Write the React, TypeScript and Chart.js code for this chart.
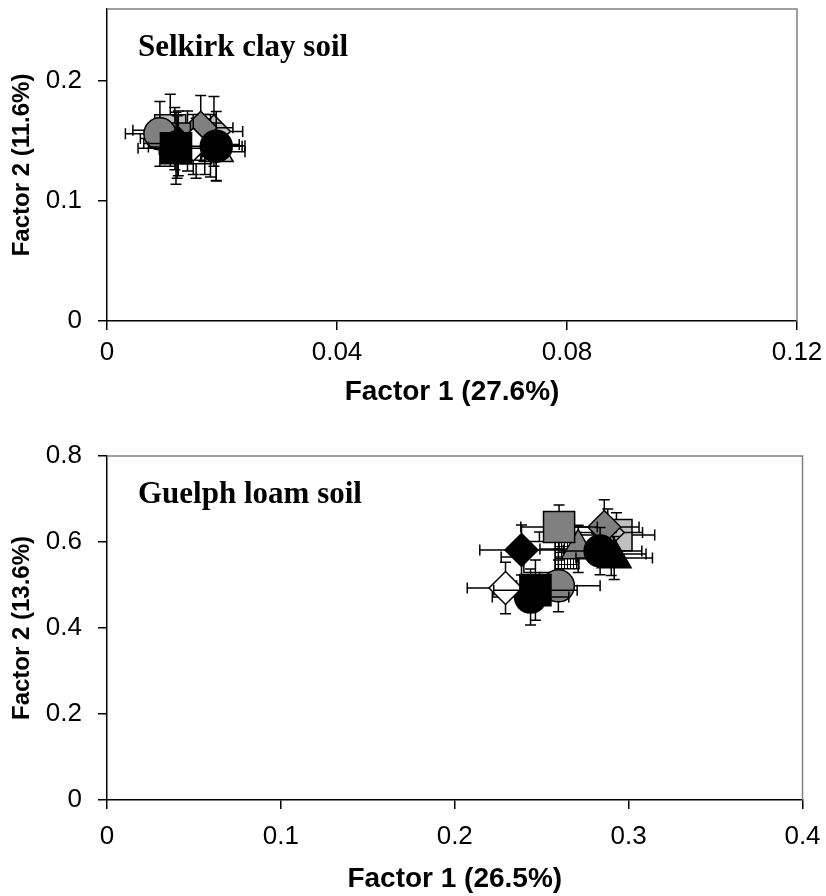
import React, { useEffect, useRef } from 'react';
import { Chart, registerables } from 'chart.js';

Chart.register(...registerables);

// ---------- DATA ----------
// Series, listed in drawing order (first = drawn underneath)
const seriesNames = [
  'T1', 'T2', 'T3', 'T4', 'T5', 'T6', 'T7', 'T8',
  'T9', 'T10', 'T11', 'T12', 'T13', 'T14', 'T15',
];
const markerShapes = [
  'rect', 'rect', 'rectRot', 'rect', 'triangle', 'triangle', 'triangle', 'rectRot',
  'rect', 'circle', 'rectRot', 'circle', 'rectRot', 'rect', 'circle',
];
const markerFills = [
  'pattern', '#C0C0C0', '#C0C0C0', '#FFFFFF', '#C0C0C0', '#808080', '#000000', '#808080',
  '#808080', '#808080', '#000000', '#000000', '#FFFFFF', '#000000', '#000000',
];

// Selkirk clay soil
const selkirkX = [0.0140, 0.0110, 0.0186, 0.0155, 0.0190, 0.0170, 0.0180, 0.0163, 0.0118, 0.0092, 0.0124, 0.0122, 0.0150, 0.0120, 0.0190];
const selkirkY = [0.150, 0.159, 0.158, 0.144, 0.141, 0.147, 0.146, 0.161, 0.152, 0.156, 0.148, 0.145, 0.147, 0.144, 0.1456];
const selkirkXErr = [0.006, 0.0065, 0.005, 0.006, 0.005, 0.006, 0.006, 0.0056, 0.006, 0.006, 0.006, 0.005, 0.005, 0.0066, 0.0045];
const selkirkYErr = [0.025, 0.030, 0.029, 0.025, 0.024, 0.025, 0.026, 0.027, 0.026, 0.027, 0.027, 0.026, 0.025, 0.030, 0.029];
const selkirkXTicks = [0, 0.04, 0.08, 0.12];
const selkirkYTicks = [0, 0.1, 0.2];

// Guelph loam soil
const guelphX = [0.2625, 0.2930, 0.2880, 0.2487, 0.2900, 0.2710, 0.2917, 0.2860, 0.2600, 0.2596, 0.2384, 0.2436, 0.2292, 0.2464, 0.2836];
const guelphY = [0.574, 0.616, 0.622, 0.565, 0.572, 0.584, 0.563, 0.635, 0.635, 0.498, 0.5815, 0.472, 0.493, 0.488, 0.579];
const guelphXErr = [0.022, 0.022, 0.020, 0.022, 0.020, 0.022, 0.022, 0.020, 0.022, 0.024, 0.024, 0.022, 0.022, 0.024, 0.024];
const guelphYErr = [0.055, 0.052, 0.055, 0.058, 0.050, 0.055, 0.050, 0.063, 0.051, 0.060, 0.058, 0.065, 0.060, 0.070, 0.055];
const guelphXTicks = [0, 0.1, 0.2, 0.3, 0.4];
const guelphYTicks = [0, 0.2, 0.4, 0.6, 0.8];

// ---------- STYLE ----------
const SANS = '"Liberation Sans", Arial, Helvetica, sans-serif';
const SERIF = '"Liberation Serif", "Times New Roman", serif';
const shapeRadius: Record<string, number> = { rect: 22, rectRot: 16.5, circle: 16, triangle: 19.5 };

function makePattern(): any {
  const c = document.createElement('canvas');
  c.width = 3;
  c.height = 6;
  const g = c.getContext('2d')!;
  g.fillStyle = '#FFFFFF';
  g.fillRect(0, 0, 3, 6);
  g.fillStyle = '#000000';
  g.fillRect(0, 0, 1, 6);
  g.fillRect(0, 0, 3, 1);
  return g.createPattern(c, 'repeat');
}

const errorBarPlugin = {
  id: 'errorBars',
  beforeDatasetDraw(chart: any, args: any) {
    const ds = chart.data.datasets[args.index];
    const xs = chart.scales.x;
    const ys = chart.scales.y;
    const ctx = chart.ctx;
    ctx.save();
    ctx.strokeStyle = '#000000';
    ctx.lineWidth = 1.5;
    const cap = 5.5;
    ds.data.forEach((p: any) => {
      const px = xs.getPixelForValue(p.x);
      const py = ys.getPixelForValue(p.y);
      const xl = xs.getPixelForValue(p.x - p.xErr);
      const xr = xs.getPixelForValue(p.x + p.xErr);
      const yt = ys.getPixelForValue(p.y + p.yErr);
      const yb = ys.getPixelForValue(p.y - p.yErr);
      ctx.beginPath();
      ctx.moveTo(xl, py); ctx.lineTo(xr, py);
      ctx.moveTo(xl, py - cap); ctx.lineTo(xl, py + cap);
      ctx.moveTo(xr, py - cap); ctx.lineTo(xr, py + cap);
      ctx.moveTo(px, yt); ctx.lineTo(px, yb);
      ctx.moveTo(px - cap, yt); ctx.lineTo(px + cap, yt);
      ctx.moveTo(px - cap, yb); ctx.lineTo(px + cap, yb);
      ctx.stroke();
    });
    ctx.restore();
  },
};

const frameAndTitlePlugin = {
  id: 'frameTitle',
  afterDraw(chart: any, _args: any, opts: any) {
    const { ctx, chartArea } = chart;
    const { left, right, top, bottom } = chartArea;
    ctx.save();
    ctx.strokeStyle = '#808080';
    ctx.lineWidth = 1.5;
    ctx.beginPath();
    ctx.moveTo(left, top);
    ctx.lineTo(right, top);
    ctx.lineTo(right, bottom);
    ctx.stroke();
    ctx.fillStyle = '#000000';
    ctx.font = `bold 31px ${SERIF}`;
    ctx.textBaseline = 'alphabetic';
    ctx.textAlign = 'left';
    ctx.fillText(opts.text, left + 31, top + 47);
    ctx.restore();
  },
};

interface PanelSpec {
  xs: number[]; ys: number[]; xErr: number[]; yErr: number[];
  xTicks: number[]; yTicks: number[];
  xMax: number; yMax: number;
  xTitle: string; yTitle: string; plotTitle: string;
  padTop: number; padRight: number; xAxisHeight: number; xTitlePadBottom: number; xTickPad: number;
}

function buildConfig(spec: PanelSpec, pattern: any): any {
  const n = seriesNames.length;
  const datasets = seriesNames.map((name, i) => {
    const fill = markerFills[i] === 'pattern' ? pattern : markerFills[i];
    return {
      label: name,
      data: [{ x: spec.xs[i], y: spec.ys[i], xErr: spec.xErr[i], yErr: spec.yErr[i] }],
      pointStyle: markerShapes[i],
      pointRadius: shapeRadius[markerShapes[i]],
      pointBackgroundColor: fill,
      pointBorderColor: '#000000',
      pointBorderWidth: 1.5,
      showLine: false,
      order: n - i,
      clip: false,
    };
  });
  const tickFont = { family: SANS, size: 26 };
  return {
    type: 'scatter',
    data: { datasets },
    plugins: [errorBarPlugin, frameAndTitlePlugin],
    options: {
      responsive: false,
      animation: false,
      events: [],
      layout: { padding: { top: spec.padTop, right: spec.padRight, left: 0, bottom: 0 } },
      plugins: {
        legend: { display: false },
        tooltip: { enabled: false },
        frameTitle: { text: spec.plotTitle },
      },
      scales: {
        x: {
          type: 'linear',
          min: 0,
          max: spec.xMax,
          afterBuildTicks: (s: any) => { s.ticks = spec.xTicks.map((v) => ({ value: v })); },
          afterFit: (s: any) => { s.height = spec.xAxisHeight; s.paddingLeft = 0; s.paddingRight = 0; },
          ticks: { font: tickFont, color: '#000000', padding: spec.xTickPad, maxRotation: 0, autoSkip: false, callback: (v: any) => String(v) },
          grid: { display: true, drawOnChartArea: false, drawTicks: true, tickLength: 9, color: '#000000', lineWidth: 1.5 },
          border: { display: true, color: '#000000', width: 1.5 },
          title: {
            display: true, text: spec.xTitle, color: '#000000',
            font: { family: SANS, size: 28, weight: 'bold' },
            padding: { top: 0, bottom: spec.xTitlePadBottom },
          },
        },
        y: {
          type: 'linear',
          min: 0,
          max: spec.yMax,
          afterBuildTicks: (s: any) => { s.ticks = spec.yTicks.map((v) => ({ value: v })); },
          afterFit: (s: any) => { s.width = 107; s.paddingTop = 0; s.paddingBottom = 0; },
          ticks: { font: tickFont, color: '#000000', padding: 16, autoSkip: false, callback: (v: any) => String(v) },
          grid: { display: true, drawOnChartArea: false, drawTicks: true, tickLength: 9, color: '#000000', lineWidth: 1.5 },
          border: { display: true, color: '#000000', width: 1.5 },
          title: {
            display: true, text: spec.yTitle, color: '#000000',
            font: { family: SANS, size: 24, weight: 'bold' },
            padding: { top: 8, bottom: 0 },
          },
        },
      },
    },
  };
}

export default function App() {
  const topRef = useRef<HTMLCanvasElement>(null);
  const botRef = useRef<HTMLCanvasElement>(null);

  useEffect(() => {
    const pattern = makePattern();
    const c1 = new Chart(topRef.current!, buildConfig({
      xs: selkirkX, ys: selkirkY, xErr: selkirkXErr, yErr: selkirkYErr,
      xTicks: selkirkXTicks, yTicks: selkirkYTicks, xMax: 0.12, yMax: 0.26,
      xTitle: 'Factor 1 (27.6%)', yTitle: 'Factor 2 (11.6%)', plotTitle: 'Selkirk clay soil',
      padTop: 29, padRight: 29, xAxisHeight: 99, xTitlePadBottom: 11, xTickPad: 7,
    }, pattern));
    const c2 = new Chart(botRef.current!, buildConfig({
      xs: guelphX, ys: guelphY, xErr: guelphXErr, yErr: guelphYErr,
      xTicks: guelphXTicks, yTicks: guelphYTicks, xMax: 0.4, yMax: 0.8,
      xTitle: 'Factor 1 (26.5%)', yTitle: 'Factor 2 (13.6%)', plotTitle: 'Guelph loam soil',
      padTop: 36, padRight: 21, xAxisHeight: 96, xTitlePadBottom: 0, xTickPad: 12,
    }, pattern));
    return () => { c1.destroy(); c2.destroy(); };
  }, []);

  return (
    <div style={{ position: 'absolute', left: 0, top: 0, width: 826, height: 896, background: '#FFFFFF', overflow: 'hidden' }}>
      <canvas ref={topRef} width={826} height={440}
        style={{ position: 'absolute', left: 0, top: -20, width: 826, height: 440 }} />
      <canvas ref={botRef} width={826} height={476}
        style={{ position: 'absolute', left: 0, top: 420, width: 826, height: 476 }} />
    </div>
  );
}
